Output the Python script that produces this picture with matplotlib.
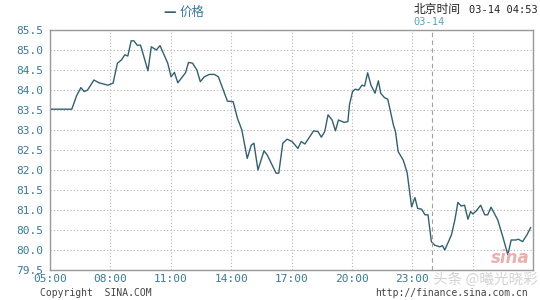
import matplotlib
matplotlib.use("Agg")
import matplotlib.pyplot as plt
import numpy as np

# minutes since 05:00 (03-13), price
minutes = [0, 65, 79, 92, 102, 112, 131, 146, 173, 188, 201, 213, 223, 232, 242, 250,
           260, 270, 292, 302, 317, 328, 351, 361, 371, 381, 404, 413, 425, 438, 448,
           460, 475, 490, 502, 529, 546, 559, 572, 588, 600, 608, 620, 638, 648, 674,
           682, 694, 707, 722, 739, 749, 760, 786, 799, 809, 819, 829, 841, 851, 860,
           877, 888, 893, 902, 910, 920, 930, 938, 947, 957, 969, 979, 986, 997, 1007,
           1024, 1030, 1038, 1053, 1058, 1065, 1078, 1088, 1096, 1108, 1118, 1127,
           1137, 1147, 1162, 1170, 1177, 1197, 1207, 1216, 1226, 1236, 1246, 1254,
           1261, 1271, 1284, 1296, 1305, 1315, 1335, 1350, 1365, 1375, 1389, 1396,
           1409, 1422, 1433]
price = [83.52, 83.52, 83.85, 84.06, 83.96, 84.0, 84.25, 84.18, 84.12, 84.17, 84.67,
         84.75, 84.88, 84.85, 85.23, 85.23, 85.12, 85.12, 84.48, 85.08, 85.0, 85.11,
         84.67, 84.33, 84.44, 84.18, 84.43, 84.69, 84.67, 84.5, 84.21, 84.33, 84.39,
         84.39, 84.33, 83.72, 83.71, 83.29, 83.0, 82.29, 82.62, 82.67, 82.0, 82.48,
         82.37, 81.92, 81.92, 82.67, 82.77, 82.71, 82.54, 82.71, 82.65, 82.98, 82.96,
         82.82, 82.96, 83.38, 83.25, 82.98, 83.25, 83.19, 83.21, 83.64, 83.96, 84.02,
         84.0, 84.12, 84.1, 84.43, 84.12, 83.92, 84.23, 83.92, 83.81, 83.77, 83.12,
         82.96, 82.46, 82.25, 82.12, 81.92, 81.08, 81.31, 81.04, 81.02, 80.88, 80.88,
         80.21, 80.12, 80.08, 80.11, 80.0, 80.38, 80.75, 81.19, 81.1, 81.12, 80.77,
         80.96, 80.9, 80.98, 81.12, 80.88, 80.88, 81.07, 80.75, 80.33, 79.88, 80.25,
         80.25, 80.27, 80.21, 80.38, 80.56]

x_ticks = [0, 180, 360, 540, 720, 900, 1080, 1260, 1440]
x_labels = ["05:00", "08:00", "11:00", "14:00", "17:00", "20:00", "23:00", "", ""]
y_ticks = [79.5, 80.0, 80.5, 81.0, 81.5, 82.0, 82.5, 83.0, 83.5, 84.0, 84.5, 85.0, 85.5]
midnight = 1140

cjk = ["Noto Sans CJK SC", "DejaVu Sans"]
mono = "DejaVu Sans Mono"
tick_col = "#3a7a94"
line_col = "#33606f"

fig = plt.figure(figsize=(5.4, 3.0), dpi=100)
ax = fig.add_axes([50 / 540, 0.1, 483 / 540, 0.8])

ax.plot(minutes, price, color=line_col, lw=1.0)

ax.set_xlim(0, 1440)
ax.set_ylim(79.5, 85.5)
ax.set_xticks(x_ticks)
ax.set_xticklabels(x_labels)
ax.set_yticks(y_ticks)
ax.set_yticklabels(["%.1f" % v for v in y_ticks])
ax.tick_params(length=0, labelsize=8, labelcolor=tick_col)
ax.tick_params(axis="x", pad=3)
ax.tick_params(axis="y", pad=5)
for lab in ax.get_xticklabels() + ax.get_yticklabels():
    lab.set_family(mono)

ax.grid(True, color="#b5b5b5", ls=(0, (1, 2)), lw=0.8)
ax.axvline(midnight, color="#a0a0a0", ls=(0, (4, 3)), lw=0.8)
for s in ax.spines.values():
    s.set_color("#999999")
    s.set_linewidth(1.0)

# header
fig.text(163 / 540, 1 - 12 / 300, "—", color=line_col, fontsize=10, fontweight="bold",
         va="center", ha="left", family=cjk)
fig.text(180 / 540, 1 - 12 / 300, "价格", color=tick_col, fontsize=9, va="center",
         ha="left", family=cjk)
fig.text(414 / 540, 1 - 10 / 300, "北京时间", color="#222222", fontsize=8.5,
         va="center", ha="left", family=cjk)
fig.text(538 / 540, 1 - 10 / 300, "03-14 04:53", color="#222222", fontsize=7.5,
         va="center", ha="right", family=mono)
fig.text(413 / 540, 1 - 22 / 300, "03-14", color="#5aa4c0", fontsize=7.5,
         va="center", ha="left", family=mono)

# footer
fig.text(40 / 540, 1 - 293 / 300, "Copyright  SINA.COM", color="#444444", fontsize=7,
         va="center", ha="left", family=mono)
fig.text(528 / 540, 1 - 293 / 300, "http://finance.sina.com.cn", color="#444444",
         fontsize=7, va="center", ha="right", family=mono)
fig.text(433 / 540, 1 - 280 / 300, "头条 @曦光晓彩", color="#cfcfcf", fontsize=10.5,
         va="center", ha="left", family=cjk, alpha=0.9)
fig.text(530 / 540, 1 - 258 / 300, "sina", color="#e8b0b0", fontsize=12,
         fontweight="bold", style="italic", va="center", ha="right")

fig.savefig("out.png", dpi=100)
